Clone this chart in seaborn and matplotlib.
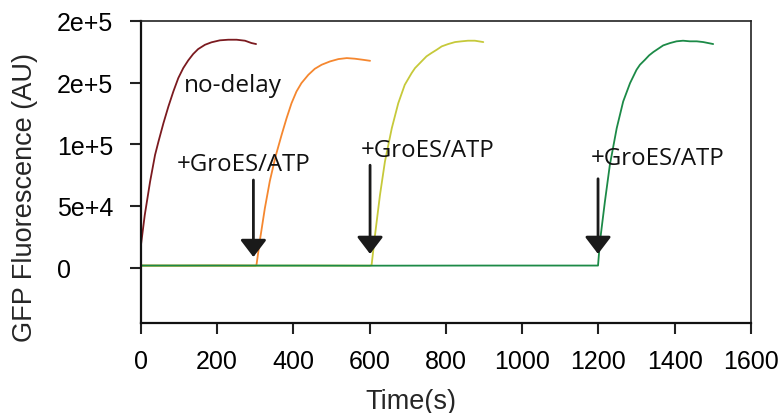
import matplotlib
matplotlib.use("Agg")
import matplotlib.pyplot as plt
import seaborn as sns
import pandas as pd
from matplotlib.ticker import FixedLocator, FixedFormatter

# ---- data ----
t_nodelay = [0, 10, 24, 37, 46, 59, 72, 85, 98, 111, 124, 137, 150, 168, 185, 207,
             229, 251, 273, 290, 302]
v_nodelay = [18100, 42500, 69700, 91300, 102200, 117100, 130600, 142800, 153700,
             161800, 168000, 173200, 177200, 180700, 182700, 184300, 184800, 184800,
             184000, 182100, 181300]

t_300 = [0, 100, 200, 300, 303, 312, 325, 338, 353, 369, 382, 395, 408, 421, 439,
         456, 474, 496, 518, 540, 561, 583, 601]
v_300 = [1600, 1500, 1600, 1500, 1900, 22000, 48000, 70000, 90000, 107600, 121100,
         133300, 142800, 149600, 156300, 161200, 164500, 167200, 169100, 169900,
         169400, 168500, 167700]

t_600 = [0, 150, 300, 450, 600, 605, 614, 627, 640, 658, 675, 692, 710, 719, 736,
         749, 762, 776, 789, 806, 824, 841, 858, 876, 898]
v_600 = [1500, 1600, 1500, 1600, 1500, 1900, 26300, 58800, 85900, 113000, 133300,
         148200, 157700, 161800, 167200, 171300, 174000, 176700, 179400, 181300,
         182900, 183500, 184000, 184000, 182900]

t_1200 = [0, 300, 600, 900, 1199, 1204, 1217, 1230, 1248, 1265, 1283, 1300, 1309,
          1322, 1333, 1344, 1357, 1370, 1388, 1405, 1422, 1440, 1458, 1475, 1501]
v_1200 = [1600, 1600, 1500, 1600, 1600, 20900, 53400, 83200, 113000, 134700, 149600,
          160400, 164500, 168500, 172100, 174800, 177500, 180200, 182100, 183500,
          184000, 183500, 183500, 182900, 181300]

series_names = ["no-delay", "300 s", "600 s", "1200 s"]
series_colors = ["#7b1a1f", "#f5872f", "#c6c93a", "#1c8a47"]

y_ticks = [0, 50000, 100000, 150000, 200000]
y_tick_labels = ["0", "5e+4", "1e+5", "2e+5", "2e+5"]
x_ticks = [0, 200, 400, 600, 800, 1000, 1200, 1400, 1600]

arrow_times = [295, 601, 1199]
arrow_tails = [71000, 83000, 72000]
arrow_tips = [8500, 11000, 11000]
label_pos = [(269, 84000), (753, 95000), (1356, 89000)]

# ---- plotting ----
sns.set_style("ticks")
plt.rcParams["font.family"] = ["Liberation Sans", "DejaVu Sans"]

fig = plt.figure(figsize=(7.83, 4.14), dpi=100)
ax = fig.add_axes([0.180, 0.2174, 0.779, 0.7295])

frames = []
for name, t, v in zip(series_names, [t_nodelay, t_300, t_600, t_1200],
                      [v_nodelay, v_300, v_600, v_1200]):
    frames.append(pd.DataFrame({"time": t, "value": v, "series": name}))
df = pd.concat(frames, ignore_index=True)

sns.lineplot(data=df, x="time", y="value", hue="series", hue_order=series_names,
             palette=series_colors, estimator=None, sort=False, linewidth=1.3,
             legend=False, ax=ax)

ax.set_xlim(0, 1600)
ax.set_ylim(-45000, 200000)
ax.xaxis.set_major_locator(FixedLocator(x_ticks))
ax.yaxis.set_major_locator(FixedLocator(y_ticks))
ax.yaxis.set_major_formatter(FixedFormatter(y_tick_labels))
ax.tick_params(axis="x", labelsize=18, length=8, width=1.5, colors="#222222",
               labelcolor="black", pad=11)
ax.tick_params(axis="y", labelsize=18, length=8, width=1.5, colors="#222222",
               labelcolor="black", pad=52.5)
for lab in ax.get_yticklabels():
    lab.set_horizontalalignment("left")

ax.set_xlabel("Time(s)", fontsize=19.5)
ax.xaxis.set_label_coords(0.443, -0.215)
ax.set_ylabel("GFP Fluorescence (AU)", fontsize=19.5)
ax.yaxis.set_label_coords(-0.168, 0.42)

for side in ["left", "bottom"]:
    ax.spines[side].set_linewidth(1.6)
    ax.spines[side].set_color("#111111")
for side in ["top", "right"]:
    ax.spines[side].set_linewidth(1.2)
    ax.spines[side].set_color("#222222")

ann_font = ["Open Sans", "DejaVu Sans"]
for xa, ytail, ytip in zip(arrow_times, arrow_tails, arrow_tips):
    ax.annotate("", xy=(xa, ytip), xytext=(xa, ytail),
                arrowprops=dict(arrowstyle="-|>,head_width=0.8,head_length=1.05",
                                color="#1a1a1a", lw=2.0, shrinkA=0, shrinkB=0))
for (xl, yl) in label_pos:
    ax.text(xl, yl, "+GroES/ATP", fontsize=17.3, family=ann_font,
            ha="center", va="center", color="#111111")
ax.text(113, 148000, "no-delay", fontsize=17.5, family=ann_font,
        ha="left", va="center", color="#111111")

fig.savefig("out.png", dpi=100)
